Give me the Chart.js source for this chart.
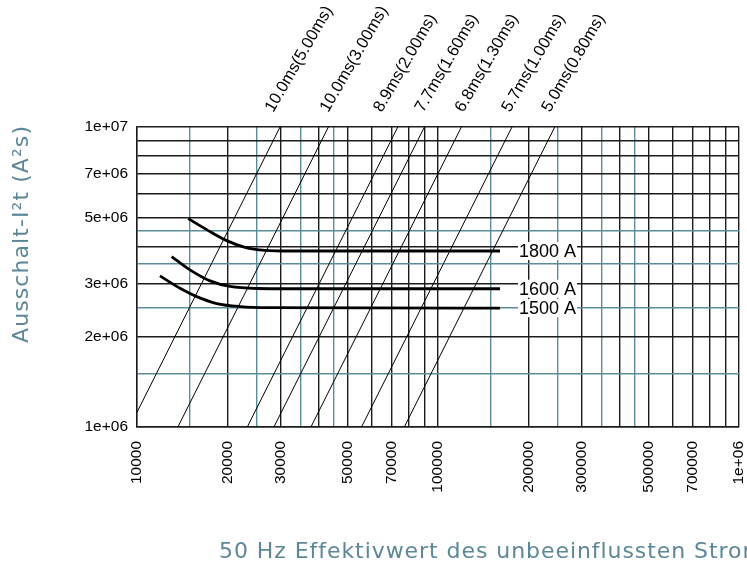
<!DOCTYPE html>
<html>
<head>
<meta charset="utf-8">
<script src="https://cdn.jsdelivr.net/npm/chart.js@4.4.1/dist/chart.umd.min.js"></script>
<style>
  html, body { margin: 0; padding: 0; background: #fff; }
  #wrap { width: 747px; height: 563px; }
</style>
</head>
<body>
<div id="wrap"><canvas id="chart" width="747" height="563"></canvas></div>
<script>
// axis ticks (labelled ones)
const xTickValues = [1e4, 2e4, 3e4, 5e4, 7e4, 1e5, 2e5, 3e5, 5e5, 7e5, 1e6];
const xTickLabels = ['10000', '20000', '30000', '50000', '70000', '100000', '200000', '300000', '500000', '700000', '1e+06'];
const yTickValues = [1e6, 2e6, 3e6, 5e6, 7e6, 1e7];
const yTickLabels = ['1e+06', '2e+06', '3e+06', '5e+06', '7e+06', '1e+07'];

// grid lines: black at 1..10, teal at the halves
const xMajorGrid = [1e4, 2e4, 3e4, 4e4, 5e4, 6e4, 7e4, 8e4, 9e4, 1e5, 2e5, 3e5, 4e5, 5e5, 6e5, 7e5, 8e5, 9e5, 1e6];
const xMinorGrid = [1.5e4, 2.5e4, 3.5e4, 4.5e4, 1.5e5, 2.5e5, 3.5e5, 4.5e5];
const yMajorGrid = [1e6, 2e6, 3e6, 4e6, 5e6, 6e6, 7e6, 8e6, 9e6, 1e7];
const yMinorGrid = [1.5e6, 2.5e6, 3.5e6, 4.5e6];

// let-through I2t curves
const curveNames = ['1800 A', '1600 A', '1500 A'];
const curve1800I = [14800, 17080, 19860, 22850, 26620, 32230, 160700];
const curve1800Y = [4.95e6, 4.54e6, 4.18e6, 3.97e6, 3.88e6, 3.86e6, 3.86e6];
const curve1600I = [13040, 15000, 17480, 20370, 24990, 32230, 160700];
const curve1600Y = [3.70e6, 3.34e6, 3.07e6, 2.94e6, 2.895e6, 2.89e6, 2.89e6];
const curve1500I = [11920, 13900, 15790, 18400, 21990, 27660, 160700];
const curve1500Y = [3.19e6, 2.90e6, 2.72e6, 2.58e6, 2.52e6, 2.50e6, 2.49e6];

// melting time lines (current at 1e6 and at 1e7)
const meltLabels = ['10.0ms(5.00ms)', '10.0ms(3.00ms)', '8.9ms(2.00ms)', '7.7ms(1.60ms)', '6.8ms(1.30ms)', '5.7ms(1.00ms)', '5.0ms(0.80ms)'];
const meltLow = [9450, 13670, 23250, 28500, 37830, 55700, 77270];
const meltHigh = [29870, 43230, 73520, 90130, 119600, 176100, 244300];
const meltLabelAt = [28360, 43200, 65010, 89380, 121400, 173500, 235600];

const BLACK = '#1c1c1c';
const TEAL = '#5b8d98';
const TITLE_COLOR = '#5d8797';

function near(v, list) {
  return list.findIndex(t => Math.abs(v - t) / t < 1e-6);
}

const datasets = [];
meltLabels.forEach((name, i) => {
  datasets.push({
    label: name,
    data: [{ x: meltLow[i], y: 1e6 }, { x: meltHigh[i], y: 1e7 }],
    borderColor: '#000',
    borderWidth: 1,
    pointRadius: 0,
    tension: 0
  });
});
const curveI = [curve1800I, curve1600I, curve1500I];
const curveY = [curve1800Y, curve1600Y, curve1500Y];
curveNames.forEach((name, i) => {
  datasets.push({
    label: name,
    data: curveI[i].map((v, j) => ({ x: v, y: curveY[i][j] })),
    borderColor: '#000',
    borderWidth: 2.8,
    pointRadius: 0,
    cubicInterpolationMode: 'monotone'
  });
});

// draw text stretched to a target width (the original face is wider)
function fitText(ctx, text, x, y, measured, target) {
  const w = ctx.measureText(measured).width;
  if ('letterSpacing' in ctx) {
    ctx.letterSpacing = ((target - w) / measured.length).toFixed(2) + 'px';
  }
  ctx.fillText(text, x, y);
  if ('letterSpacing' in ctx) ctx.letterSpacing = '0px';
}

// labels, boxes and axis titles drawn on top
const overlay = {
  id: 'overlay',
  afterDatasetsDraw(chart) {
    const ctx = chart.ctx;
    const x = chart.scales.x;
    const y = chart.scales.y;
    const top = chart.chartArea.top;
    ctx.save();

    ctx.font = '18px "Liberation Sans", Arial';
    ctx.textBaseline = 'middle';
    curveNames.forEach((name, i) => {
      const xs = curveI[i];
      const ys = curveY[i];
      const px = x.getPixelForValue(xs[xs.length - 1]) + 19;
      const py = y.getPixelForValue(ys[ys.length - 1]);
      const w = ctx.measureText(name).width;
      ctx.fillStyle = '#fff';
      ctx.fillRect(px - 1, py - 9, w + 2, 18);
      ctx.fillStyle = '#000';
      ctx.fillText(name, px, py + 1);
    });

    ctx.font = '16.5px "Liberation Sans", Arial';
    ctx.textBaseline = 'alphabetic';
    ctx.fillStyle = '#000';
    meltLabels.forEach((t, i) => {
      ctx.save();
      ctx.translate(x.getPixelForValue(meltLabelAt[i]), top - 14);
      ctx.rotate(-Math.PI / 3);
      ctx.fillText(t, 0, 0);
      ctx.restore();
    });

    ctx.fillStyle = TITLE_COLOR;
    ctx.font = '22px "DejaVu Sans"';
    const yTitle = 'Ausschalt-I²t (A²s)';
    ctx.save();
    ctx.translate(28, 343);
    ctx.rotate(-Math.PI / 2);
    fitText(ctx, yTitle, 0, 0, yTitle, 218);
    ctx.restore();
    fitText(ctx, '50 Hz Effektivwert des unbeeinflussten Stroms (A)', 219, 558,
      '50 Hz Effektivwert des unbeeinflussten Stro', 523);

    ctx.restore();
  }
};

new Chart(document.getElementById('chart'), {
  type: 'line',
  data: { datasets: datasets },
  options: {
    responsive: false,
    animation: false,
    layout: { padding: { left: 0, top: 127, right: 8, bottom: 0 } },
    plugins: { legend: { display: false }, tooltip: { enabled: false } },
    scales: {
      x: {
        type: 'logarithmic',
        min: 1e4,
        max: 1e6,
        afterBuildTicks: s => { s.ticks = xMajorGrid.concat(xMinorGrid).sort((a, b) => a - b).map(v => ({ value: v })); },
        afterFit: s => { s.height = 136; s.paddingLeft = 0; s.paddingRight = 0; },
        grid: {
          color: c => near(c.tick.value, xMinorGrid) >= 0 ? TEAL : BLACK,
          lineWidth: 1.4,
          drawTicks: false
        },
        border: { color: BLACK, width: 1.4 },
        ticks: {
          autoSkip: false,
          maxRotation: 90,
          minRotation: 90,
          padding: 14,
          color: '#000',
          font: { family: '"Liberation Sans", Arial', size: 15.5 },
          callback: v => { const k = near(v, xTickValues); return k >= 0 ? xTickLabels[k] : ''; }
        }
      },
      y: {
        type: 'logarithmic',
        min: 1e6,
        max: 1e7,
        afterBuildTicks: s => { s.ticks = yMajorGrid.concat(yMinorGrid).sort((a, b) => a - b).map(v => ({ value: v })); },
        afterFit: s => { s.width = 137; s.paddingTop = 0; s.paddingBottom = 0; },
        grid: {
          color: c => near(c.tick.value, yMinorGrid) >= 0 ? TEAL : BLACK,
          lineWidth: 1.4,
          drawTicks: false
        },
        border: { color: BLACK, width: 1.4 },
        ticks: {
          autoSkip: false,
          padding: 9,
          color: '#000',
          font: { family: '"Liberation Sans", Arial', size: 15.5 },
          callback: v => { const k = near(v, yTickValues); return k >= 0 ? yTickLabels[k] : ''; }
        }
      }
    }
  },
  plugins: [overlay]
});
</script>
</body>
</html>
